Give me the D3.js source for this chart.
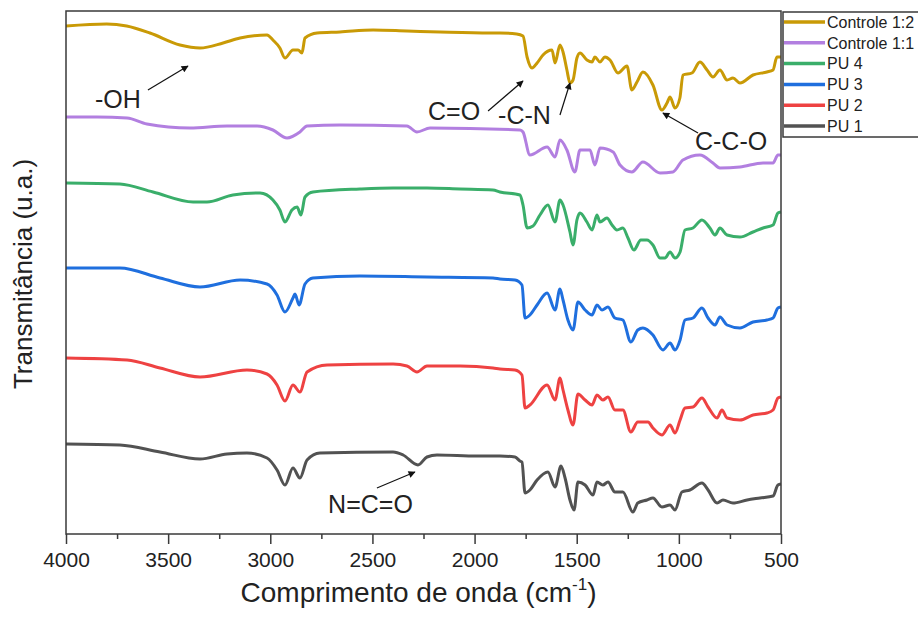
<!DOCTYPE html>
<html>
<head>
<meta charset="utf-8">
<script src="https://cdn.jsdelivr.net/npm/d3@7/dist/d3.min.js"></script>
<style>
  body { margin: 0; background: #fff; }
  text { font-family: "Liberation Sans", Arial, sans-serif; fill: #222; }
</style>
</head>
<body>
<script>
"use strict";

// data: [wavenumber (cm-1), transmittance (u.a.)]

const controle12 = [
    [4000,508],[3801,510],[3703,508],[3589,501],[3442,489],[3344,486],[3231,491],
    [3148,496],[3016,499],[2987,494],[2953,486],[2928,476],[2889,484],[2864,484],[2845,481],
    [2830,496],[2771,501],[2659,502],[2497,504],[2331,503],[2169,502],[1925,501],[1876,501],
    [1794,500],[1763,498],[1743,477],[1719,466],[1694,471],[1665,479],[1621,484],[1606,471],
    [1582,489],[1567,482],[1548,464],[1533,451],[1518,454],[1499,476],[1484,481],[1450,474],
    [1425,472],[1411,477],[1386,472],[1362,477],[1337,474],[1298,461],[1254,468],[1230,444],
    [1205,452],[1176,462],[1127,449],[1083,424],[1058,431],[1043,437],[1019,426],[995,436],
    [980,459],[936,461],[897,472],[862,464],[833,457],[799,464],[764,454],[735,456],
    [701,451],[637,459],[569,462],[539,464],[520,477],[500,477]
];

const controle11 = [
    [4000,417],[3848,417],[3701,416],[3604,410],[3393,406],[3212,408],[3065,408],[2987,404],
    [2918,396],[2855,402],[2820,408],[2659,409],[2331,408],[2282,402],[2218,406],[1778,404],
    [1763,402],[1729,379],[1645,387],[1606,377],[1582,394],[1548,384],[1509,362],[1484,384],
    [1435,384],[1411,369],[1386,386],[1322,382],[1288,369],[1230,362],[1176,372],[1092,361],
    [1029,362],[980,374],[897,379],[833,371],[799,366],[701,367],[588,371],[539,371],
    [515,379],[500,379]
];

const pu4 = [
    [4000,351],[3736,350],[3574,342],[3378,332],[3310,332],[3183,339],[3050,341],[2987,334],
    [2953,324],[2928,312],[2894,324],[2869,327],[2850,319],[2830,337],[2791,342],[2561,345],
    [2399,346],[2233,346],[2071,345],[1910,344],[1876,342],[1778,339],[1763,329],[1743,306],
    [1714,308],[1680,319],[1641,329],[1606,312],[1582,334],[1567,329],[1533,302],[1518,289],
    [1499,314],[1484,321],[1450,312],[1425,304],[1401,319],[1386,312],[1352,316],[1327,309],
    [1303,304],[1274,306],[1249,296],[1220,284],[1186,294],[1156,294],[1127,289],[1092,276],
    [1068,276],[1043,282],[1019,276],[994,282],[970,304],[931,306],[887,314],[848,306],
    [823,299],[799,306],[764,299],[701,297],[637,302],[588,306],[539,309],[515,321],[500,322]
];

const pu3 = [
    [4000,266],[3736,266],[3540,256],[3344,247],[3148,254],[3016,250],[2967,239],[2928,222],
    [2889,236],[2879,240],[2859,229],[2830,250],[2791,256],[2561,258],[2233,257],[1910,256],
    [1876,255],[1802,254],[1768,249],[1753,216],[1729,219],[1694,229],[1645,241],[1606,224],
    [1582,245],[1567,234],[1543,214],[1518,204],[1494,232],[1459,224],[1425,219],[1401,229],
    [1376,224],[1347,227],[1313,216],[1274,214],[1235,192],[1201,204],[1176,206],[1127,199],
    [1078,184],[1043,191],[1019,184],[994,194],[970,214],[931,216],[887,226],[857,216],
    [823,209],[799,217],[764,209],[701,206],[637,212],[569,214],[539,216],[515,226],[500,227]
];

const pu2 = [
    [4000,176],[3701,174],[3540,166],[3344,157],[3114,164],[3016,160],[2967,149],[2928,133],
    [2889,149],[2855,142],[2820,162],[2722,169],[2399,170],[2331,168],[2282,162],[2233,168],
    [2071,168],[1910,166],[1876,165],[1802,164],[1768,159],[1753,126],[1729,129],[1645,149],
    [1606,134],[1582,156],[1567,144],[1543,124],[1518,109],[1494,140],[1459,134],[1425,129],
    [1401,139],[1372,134],[1347,137],[1313,124],[1274,124],[1235,102],[1201,112],[1151,112],
    [1127,106],[1083,99],[1043,109],[1019,101],[994,114],[970,126],[931,127],[887,136],
    [857,127],[813,116],[789,124],[764,116],[701,114],[637,119],[569,121],[539,124],
    [515,136],[500,137]
];

const pu1 = [
    [4000,90],[3736,89],[3540,82],[3344,75],[3212,80],[3114,81],[3016,76],[2967,64],
    [2928,49],[2889,66],[2855,56],[2820,74],[2757,81],[2399,82],[2350,79],[2277,69],
    [2233,77],[2184,79],[1988,78],[1876,78],[1802,77],[1778,73],[1768,72],[1753,41],
    [1729,44],[1694,54],[1641,62],[1606,47],[1577,68],[1557,56],[1533,34],[1513,24],
    [1494,52],[1459,49],[1420,39],[1401,52],[1372,49],[1347,52],[1313,42],[1274,42],
    [1225,22],[1201,31],[1156,34],[1127,36],[1083,27],[1043,29],[1019,24],[985,42],
    [946,44],[887,51],[857,44],[813,31],[784,34],[735,31],[666,34],[603,36],
    [539,38],[515,49],[500,50]
];

const seriesNames = ['Controle 1:2', 'Controle 1:1', 'PU 4', 'PU 3', 'PU 2', 'PU 1'];
const seriesData = [controle12, controle11, pu4, pu3, pu2, pu1];
const seriesColors = ['#c99a06', '#b27fe0', '#3aae6a', '#1f6fde', '#ee4242', '#525252'];

const xTicks = [4000, 3500, 3000, 2500, 2000, 1500, 1000, 500];
const xMinorTicks = [3750, 3250, 2750, 2250, 1750, 1250, 750];

// annotation: label, label anchor [w, v], arrow tail [w, v], arrow head [w, v]
const annotations = [
    {label:'-OH',   at:[3858,426], from:[3599,444], to:[3403,468]},
    {label:'C=O',   at:[2228,414], from:[1934,423], to:[1763,453]},
    {label:'-C-N',  at:[1885,410], from:[1582,419], to:[1533,451]},
    {label:'C-C-O', at:[921,384],  from:[906,401],  to:[1078,421]},
    {label:'N=C=O', at:[2717,21],  from:[2478,46],  to:[2292,62]}
];

// layout
const W = 918, H = 621;
const margin = {top:11, left:66, right:137, bottom:87};
const w = W - margin.left - margin.right;
const h = H - margin.top - margin.bottom;

const svg = d3.select('body').append('svg')
    .attr('width', W)
    .attr('height', H);

svg.append('defs').append('marker')
    .attr('id', 'arrow')
    .attr('viewBox', '0 0 10 10')
    .attr('refX', 9).attr('refY', 5)
    .attr('markerWidth', 9).attr('markerHeight', 7)
    .attr('markerUnits', 'userSpaceOnUse')
    .attr('orient', 'auto')
    .append('path')
    .attr('d', 'M0,0 L10,5 L0,10 z')
    .attr('fill', '#111');

const g = svg.append('g')
    .attr('transform', 'translate(' + margin.left + ',' + margin.top + ')');

const x = d3.scaleLinear().domain([4000, 500]).range([0, w]);
const y = d3.scaleLinear().domain([0, 523]).range([h, 0]);

// spectra
const line = d3.line()
    .x((d) => x(d[0]))
    .y((d) => y(d[1]))
    .curve(d3.curveMonotoneX);

g.selectAll('path.spec')
    .data(seriesData)
    .enter()
    .append('path')
    .attr('class', 'spec')
    .attr('d', line)
    .attr('fill', 'none')
    .attr('stroke', (d, i) => seriesColors[i])
    .attr('stroke-width', 3)
    .attr('stroke-linejoin', 'round');

// frame
g.append('rect')
    .attr('width', w)
    .attr('height', h)
    .attr('fill', 'none')
    .attr('stroke', '#3a3a3a')
    .attr('stroke-width', 1.5);

// bottom axis
const xAxis = g.append('g')
    .attr('transform', 'translate(0,' + h + ')')
    .call(d3.axisBottom(x).tickValues(xTicks).tickSize(10).tickPadding(8).tickFormat(d3.format('d')));
xAxis.select('.domain').remove();
xAxis.selectAll('line').attr('stroke', '#3a3a3a').attr('stroke-width', 1.5);
xAxis.selectAll('text')
    .style('font-size', '21px')
    .attr('fill', '#222');

g.append('g')
    .attr('transform', 'translate(0,' + h + ')')
    .call(d3.axisBottom(x).tickValues(xMinorTicks).tickSize(5).tickFormat(''))
    .call((a) => a.select('.domain').remove())
    .selectAll('line').attr('stroke', '#3a3a3a').attr('stroke-width', 1.5);

// axis titles
const xTitle = svg.append('text')
    .attr('x', margin.left + w / 2 - 5)
    .attr('y', 602)
    .attr('text-anchor', 'middle')
    .style('font-size', '28px');
xTitle.append('tspan').text('Comprimento de onda (cm');
xTitle.append('tspan').text('-1').attr('dy', -12).style('font-size', '17px');
xTitle.append('tspan').text(')').attr('dy', 12);

svg.append('text')
    .attr('transform', 'translate(32,274) rotate(-90)')
    .attr('text-anchor', 'middle')
    .style('font-size', '26px')
    .text('Transmitância (u.a.)');

// annotations
annotations.forEach((a) => {
    g.append('text')
        .attr('x', x(a.at[0]))
        .attr('y', y(a.at[1]))
        .style('font-size', '25px')
        .text(a.label);
    g.append('line')
        .attr('x1', x(a.from[0])).attr('y1', y(a.from[1]))
        .attr('x2', x(a.to[0])).attr('y2', y(a.to[1]))
        .attr('stroke', '#111')
        .attr('stroke-width', 1.2)
        .attr('marker-end', 'url(#arrow)');
});

// legend
const legend = svg.append('g').attr('transform', 'translate(783,12)');
legend.append('rect')
    .attr('width', 150)
    .attr('height', 125)
    .attr('fill', '#fff')
    .attr('stroke', '#3a3a3a')
    .attr('stroke-width', 1.5);

const items = legend.selectAll('g.item')
    .data(seriesNames)
    .enter()
    .append('g')
    .attr('class', 'item')
    .attr('transform', (d, i) => 'translate(0,' + (10 + i * 20.8) + ')');
items.append('line')
    .attr('x1', 1).attr('x2', 42)
    .attr('stroke', (d, i) => seriesColors[i])
    .attr('stroke-width', 3.5);
items.append('text')
    .attr('x', 44)
    .attr('dy', '0.36em')
    .style('font-size', '16px')
    .text((d) => d);
</script>
</body>
</html>
